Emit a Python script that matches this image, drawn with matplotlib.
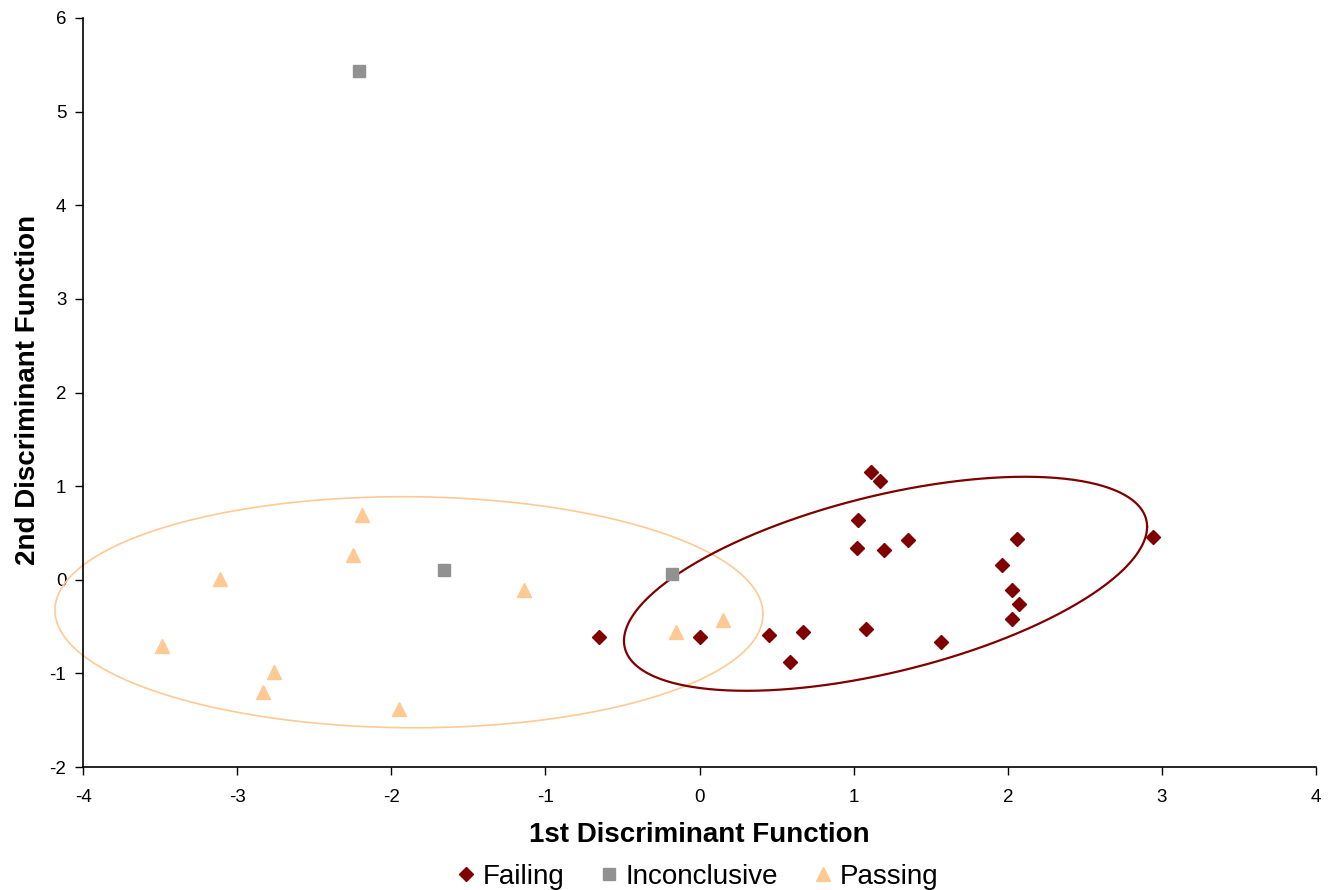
import numpy as np
import matplotlib
matplotlib.use("Agg")
import matplotlib.pyplot as plt
from matplotlib.ticker import FixedLocator, FormatStrFormatter

plt.rcParams['font.family'] = ['Liberation Sans', 'DejaVu Sans']
plt.rcParams['axes.unicode_minus'] = False

# ---- data ----
failing_x = [-0.65, 0.00, 0.45, 0.67, 0.59, 1.08, 1.57, 1.11, 1.17, 1.03, 1.02,
             1.20, 1.35, 2.06, 1.96, 2.03, 2.07, 2.03, 2.94]
failing_y = [-0.61, -0.61, -0.59, -0.56, -0.88, -0.53, -0.67, 1.15, 1.05, 0.64, 0.34,
             0.32, 0.42, 0.44, 0.16, -0.11, -0.26, -0.42, 0.46]

inconclusive_x = [-2.21, -1.66, -0.18]
inconclusive_y = [5.43, 0.10, 0.06]

passing_x = [-2.19, -2.25, -3.11, -3.49, -2.76, -2.83, -1.95, -1.14, -0.15, 0.15]
passing_y = [0.69, 0.26, 0.01, -0.71, -0.98, -1.20, -1.38, -0.11, -0.56, -0.43]

# ellipse parameters: centre x, centre y, x half-range, y half-range, phase (deg)
failing_ellipse = [1.207, -0.043, 1.697, 1.143, 57.8]
passing_ellipse = [-1.885, -0.347, 2.297, 1.234, 91.0]

x_ticks = [-4, -3, -2, -1, 0, 1, 2, 3, 4]
y_ticks = [-2, -1, 0, 1, 2, 3, 4, 5, 6]

c_fail = '#800000'
c_inc = '#919191'
c_pass = '#FFC994'

fig = plt.figure(figsize=(13.32, 8.9), dpi=100)
ax = fig.add_axes([83/1332, 1-767/890, (1316-83)/1332, (767-18)/890])


def ellipse_curve(p):
    cx, cy, ax_, ay_, ph = p
    t = np.linspace(0, 2*np.pi, 400)
    return cx + ax_*np.cos(t), cy + ay_*np.cos(t - np.deg2rad(ph))


ex, ey = ellipse_curve(passing_ellipse)
ax.plot(ex, ey, color=c_pass, lw=1.2, zorder=2, clip_on=False)
ex, ey = ellipse_curve(failing_ellipse)
ax.plot(ex, ey, color=c_fail, lw=1.6, zorder=2, clip_on=False)

ax.plot(failing_x, failing_y, ls='none', marker='D', ms=7, color=c_fail,
        label='Failing', zorder=3)
ax.plot(inconclusive_x, inconclusive_y, ls='none', marker='s', ms=9, color=c_inc,
        label='Inconclusive', zorder=3)
ax.plot(passing_x, passing_y, ls='none', marker='^', ms=10, color=c_pass,
        label='Passing', zorder=3)

ax.set_xlim(-4, 4)
ax.set_ylim(-2, 6)
ax.xaxis.set_major_locator(FixedLocator(x_ticks))
ax.yaxis.set_major_locator(FixedLocator(y_ticks))
ax.xaxis.set_major_formatter(FormatStrFormatter('%d'))
ax.yaxis.set_major_formatter(FormatStrFormatter('%d'))

for s in ['top', 'right']:
    ax.spines[s].set_visible(False)
for s in ['left', 'bottom']:
    ax.spines[s].set_linewidth(1.2)
ax.tick_params(direction='out', length=6, width=1, labelsize=13.5)
ax.tick_params(axis='x', pad=10)
ax.tick_params(axis='y', pad=6)

ax.set_xlabel('1st Discriminant Function', fontsize=20, fontweight='bold')
ax.xaxis.set_label_coords(0.5, -0.0908)
ax.xaxis.label.set_va('center')
ax.set_ylabel('2nd Discriminant Function', fontsize=20, fontweight='bold')
ax.yaxis.set_label_coords(-0.0446, 0.503)
ax.yaxis.label.set_va('center')

fig.legend(loc='center', bbox_to_anchor=(698/1332, 1-877/890), ncol=3,
           frameon=False, fontsize=20, handlelength=0.6, handletextpad=0.3,
           columnspacing=1.3, markerscale=0.95, borderpad=0)

fig.savefig('out.png', dpi=100)
